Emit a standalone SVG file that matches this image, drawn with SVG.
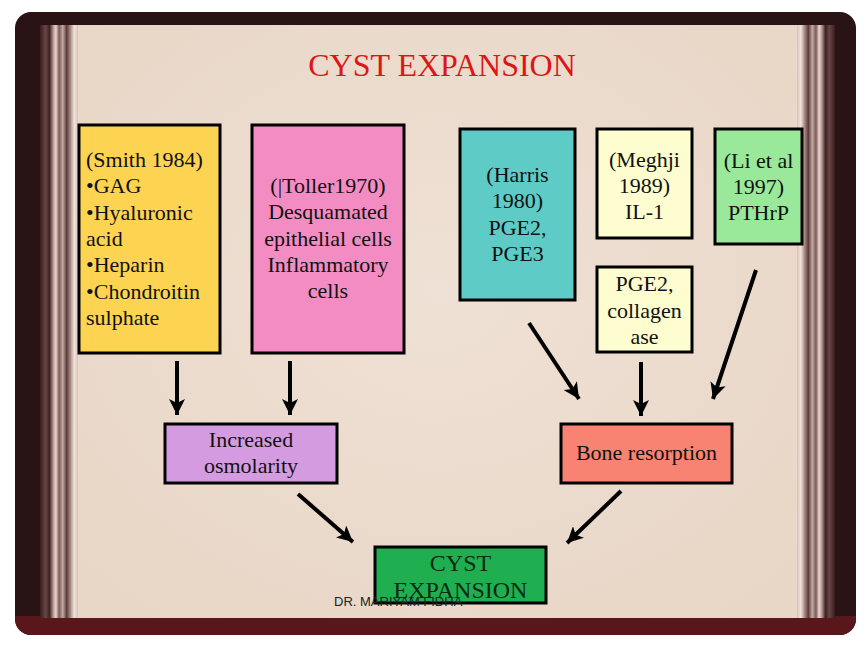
<svg xmlns="http://www.w3.org/2000/svg" width="864" height="648" viewBox="0 0 864 648">
<style>
.box{stroke:#000;stroke-width:3}
.t{font-family:"Liberation Serif","Times New Roman",serif;font-size:22px;fill:#111}
.c{text-anchor:middle}
.con{stroke:#000;stroke-width:4;fill:none;marker-end:url(#ah)}
</style>
<defs>
<marker id="ah" markerUnits="userSpaceOnUse" viewBox="0 0 16 16" refX="16" refY="8" markerWidth="16" markerHeight="16" orient="auto">
<path d="M0,0 L16,8 L0,16 L4,8 z" fill="#000"/>
</marker>
<linearGradient id="stripL" x1="0" y1="0" x2="1" y2="0">
<stop offset="0" stop-color="#3a1c1e"/>
<stop offset="0.15" stop-color="#6a4646"/>
<stop offset="0.25" stop-color="#3d2222"/>
<stop offset="0.35" stop-color="#b89a94"/>
<stop offset="0.42" stop-color="#ead6cc"/>
<stop offset="0.5" stop-color="#7a5a58"/>
<stop offset="0.6" stop-color="#c4aaa2"/>
<stop offset="0.7" stop-color="#5b3b3b"/>
<stop offset="0.8" stop-color="#a88a84"/>
<stop offset="0.9" stop-color="#f2e4dc"/>
<stop offset="1" stop-color="#d8c2b8"/>
</linearGradient>
<linearGradient id="stripR" x1="1" y1="0" x2="0" y2="0">
<stop offset="0" stop-color="#3a1c1e"/>
<stop offset="0.15" stop-color="#6a4646"/>
<stop offset="0.25" stop-color="#3d2222"/>
<stop offset="0.35" stop-color="#b89a94"/>
<stop offset="0.42" stop-color="#ead6cc"/>
<stop offset="0.5" stop-color="#7a5a58"/>
<stop offset="0.6" stop-color="#c4aaa2"/>
<stop offset="0.7" stop-color="#5b3b3b"/>
<stop offset="0.8" stop-color="#a88a84"/>
<stop offset="0.9" stop-color="#f2e4dc"/>
<stop offset="1" stop-color="#d8c2b8"/>
</linearGradient>
<radialGradient id="page" cx="0.5" cy="0.45" r="0.7">
<stop offset="0" stop-color="#efe1d5"/>
<stop offset="1" stop-color="#e8d6c6"/>
</radialGradient>
<clipPath id="fc"><rect x="15" y="12" width="841" height="623" rx="16"/></clipPath>
</defs>
<rect width="864" height="648" fill="#fff"/>
<g id="frame">
<rect x="15" y="12" width="841" height="623" rx="16" fill="#2a1315"/>
<rect x="15" y="616" width="841" height="19" fill="#5a171b" clip-path="url(#fc)"/>
<rect x="40" y="25" width="38" height="593" fill="url(#stripL)"/>
<rect x="797" y="25" width="38" height="593" fill="url(#stripR)"/>
<rect x="78" y="25" width="719" height="593" fill="url(#page)"/>
</g>
<text id="title" x="442" y="76" font-family="Liberation Serif, Times New Roman, serif" font-size="32" fill="#dd1515" text-anchor="middle">CYST EXPANSION</text>
<g id="connectors">
<line class="con" x1="177" y1="361" x2="177" y2="415"/>
<line class="con" x1="290" y1="361" x2="290" y2="415"/>
<line class="con" x1="529" y1="323" x2="579" y2="399"/>
<line class="con" x1="641" y1="362" x2="641" y2="416"/>
<line class="con" x1="756" y1="270" x2="713" y2="399"/>
<line class="con" x1="298" y1="494" x2="353" y2="542"/>
<line class="con" x1="621" y1="491" x2="567" y2="543"/>
</g>
<g id="smith">
<rect class="box" x="79" y="125" width="141" height="228" fill="#fdd452"/>
<text class="t" x="86" y="167">(Smith 1984)</text>
<text class="t" x="86" y="193">•GAG</text>
<text class="t" x="86" y="220">•Hyaluronic</text>
<text class="t" x="86" y="246">acid</text>
<text class="t" x="86" y="272">•Heparin</text>
<text class="t" x="86" y="299">•Chondroitin</text>
<text class="t" x="86" y="325">sulphate</text>
</g>
<g id="toller">
<rect class="box" x="252" y="125" width="152" height="228" fill="#f28cc2"/>
<text class="t c" x="328" y="193">(|Toller1970)</text>
<text class="t c" x="328" y="219">Desquamated</text>
<text class="t c" x="328" y="246">epithelial cells</text>
<text class="t c" x="328" y="272">Inflammatory</text>
<text class="t c" x="328" y="298">cells</text>
</g>
<g id="harris">
<rect class="box" x="460" y="129" width="115" height="171" fill="#5ecbc7"/>
<text class="t c" x="517.5" y="182">(Harris</text>
<text class="t c" x="517.5" y="208">1980)</text>
<text class="t c" x="517.5" y="235">PGE2,</text>
<text class="t c" x="517.5" y="261">PGE3</text>
</g>
<g id="meghji">
<rect class="box" x="597" y="129" width="95" height="109" fill="#fdfdcf"/>
<text class="t c" x="644.5" y="167">(Meghji</text>
<text class="t c" x="644.5" y="193">1989)</text>
<text class="t c" x="644.5" y="219">IL-1</text>
</g>
<g id="li">
<rect class="box" x="715" y="129" width="87" height="115" fill="#9ae89a"/>
<text class="t c" x="758.5" y="168">(Li et al</text>
<text class="t c" x="758.5" y="194">1997)</text>
<text class="t c" x="758.5" y="220">PTHrP</text>
</g>
<g id="pge2">
<rect class="box" x="597" y="267" width="95" height="85" fill="#fdfdcf"/>
<text class="t c" x="644.5" y="291">PGE2,</text>
<text class="t c" x="644.5" y="318">collagen</text>
<text class="t c" x="644.5" y="344">ase</text>
</g>
<g id="osmolarity">
<rect class="box" x="165" y="424" width="172" height="59" fill="#d59be0"/>
<text class="t c" x="251" y="447">Increased</text>
<text class="t c" x="251" y="473">osmolarity</text>
</g>
<g id="bone">
<rect class="box" x="561" y="424" width="171" height="59" fill="#f98372"/>
<text class="t c" x="646.5" y="460">Bone resorption</text>
</g>
<g id="cyst">
<rect class="box" x="375" y="547" width="171" height="56" fill="#1faf50"/>
<text class="t c" x="460.5" y="571" font-size="24" fill="#0c2a14" style="font-size:24px;fill:#0c2a14">CYST</text>
<text class="t c" x="460.5" y="598" style="font-size:24px;fill:#0c2a14">EXPANSION</text>
</g>
<text id="footer" x="334" y="606" font-family="Liberation Sans, Arial, sans-serif" font-size="13" fill="#222">DR. MARIYAM FIDHA</text>
</svg>
